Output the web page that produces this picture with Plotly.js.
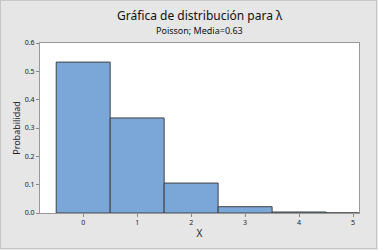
<!DOCTYPE html>
<html><head><meta charset="utf-8">
<script src="https://cdn.plot.ly/plotly-3.0.1.min.js"></script>
<style>html,body{margin:0;padding:0;background:#e6e6e6}#g{width:378px;height:250px}
#frame{position:absolute;left:0;top:0;width:377px;height:249px;box-sizing:border-box;border:1px solid #c6c6c6;pointer-events:none}</style>
</head><body><div id="g"></div><div id="frame"></div>
<script>
const xValues = [0, 1, 2, 3, 4, 5];
const probabilities = [0.5326, 0.3355, 0.1057, 0.0222, 0.0035, 0.0004];
const yTicks = [0, 0.1, 0.2, 0.3, 0.4, 0.5, 0.6];
const titleText = 'Gráfica de distribución para λ';
const subtitleText = 'Poisson; Media=0.63';

const trace = {
  type: 'bar', x: xValues, y: probabilities, width: 1,
  marker: {color: '#7BA6D8', line: {color: '#404040', width: 1}},
  hoverinfo: 'none'
};
const layout = {
  width: 378, height: 250,
  paper_bgcolor: '#e6e6e6', plot_bgcolor: '#ffffff',
  margin: {l: 40, r: 19, t: 43, b: 37},
  font: {family: 'Noto Sans, Open Sans, sans-serif', color: '#222'},
  bargap: 0,
  xaxis: {range: [-0.8, 5.11], tickvals: xValues, ticks: 'outside', ticklen: 3, tickcolor: '#888',
          tickfont: {size: 7}, showgrid: false, zeroline: false, showline: true, linecolor: '#999', mirror: true,
          title: {text: 'X', font: {size: 10}, standoff: 3}},
  yaxis: {range: [0, 0.6], tickvals: yTicks, tickformat: '.1f', ticks: 'outside', ticklen: 3, tickcolor: '#888',
          tickfont: {size: 7}, showgrid: false, zeroline: false, showline: true, linecolor: '#999', mirror: true,
          title: {text: 'Probabilidad', font: {size: 9}, standoff: 2}},
  annotations: [
    {text: titleText, xref: 'paper', yref: 'paper', x: 0.5, y: 1.159, xanchor: 'center', yanchor: 'middle',
     showarrow: false, font: {size: 12, color: '#111'}},
    {text: subtitleText, xref: 'paper', yref: 'paper', x: 0.5, y: 1.075, xanchor: 'center', yanchor: 'middle',
     showarrow: false, font: {size: 9, color: '#111'}}
  ]
};
Plotly.newPlot('g', [trace], layout, {staticPlot: true, displayModeBar: false});
</script></body></html>
